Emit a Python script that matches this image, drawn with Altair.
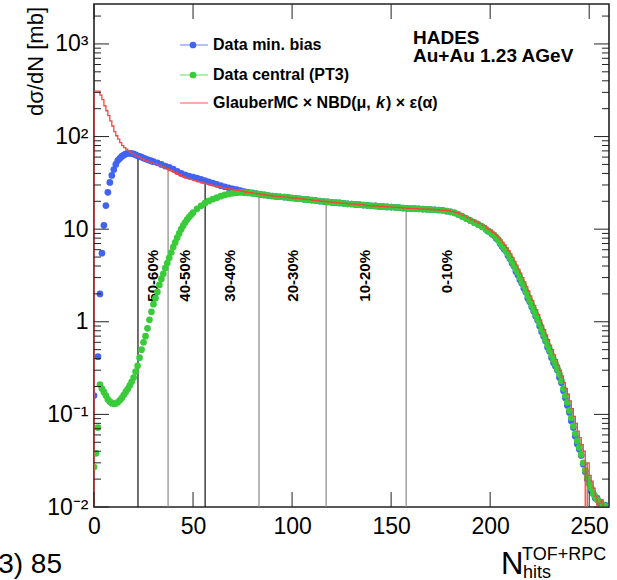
import altair as alt
import pandas as pd

FONT = "Liberation Sans"
W, H = 515, 503
XMAX = 260
YMIN, YMAX = 0.01, 2700
BLUE = "#4163f2"
GREEN = "#3acb3a"
RED = "#f2473c"

# ------------------------------------------------------------------ data
# Data min. bias (blue markers)
blue_N_low = [0, 2, 3, 4, 5, 6, 7, 8, 9, 10, 11, 12, 13, 14, 15, 16, 17, 18, 19,
              20, 21, 22, 23, 24, 25, 26, 27, 28, 29]
blue_low = [0.16, 0.42, 2.0, 5.5, 11, 18, 25, 32, 38, 44, 50, 55, 58, 61, 63, 65,
            66, 66, 65.5, 65, 63.5, 62, 61, 60, 58.5, 57.5, 56.5, 55.5, 54.5]
N_high = list(range(30, 259, 2))
blue_high = [
    53.5, 52, 50, 48, 46.5, 44.5, 42, 40, 38.5, 37.5,
    36.5, 35.5, 34.5, 33.5, 32.5, 31.5, 30.5, 29.5, 28.7, 28.0,
    27.3, 26.7, 26.1, 25.5, 25.0, 24.6, 24.2, 23.8, 23.4, 23.1,
    22.8, 22.6, 22.4, 22.2, 22.0, 21.7, 21.5, 21.3, 21.0, 20.8,
    20.6, 20.4, 20.1, 19.9, 19.7, 19.5, 19.3, 19.2, 19.0, 18.8,
    18.7, 18.5, 18.4, 18.2, 18.1, 17.9, 17.8, 17.6, 17.5, 17.4,
    17.3, 17.2, 17.1, 16.9, 16.8, 16.7, 16.7, 16.6, 16.5, 16.4,
    16.3, 16.2, 16.1, 16.0, 15.7, 15.4, 15.0, 14.4, 13.7, 13.0,
    12.4, 11.8, 11.2, 10.6, 9.9, 9.3, 8.6, 7.7, 6.5, 5.8,
    4.8, 4.0, 3.2, 2.6, 2.1, 1.65, 1.3, 1.04, 0.78, 0.62,
    0.48, 0.36, 0.30, 0.22, 0.15, 0.105, 0.072, 0.048, 0.036, 0.024,
    0.018, 0.014, 0.0125, 0.011, 0.0105]
N_tail_odd = list(range(199, 258, 2))
blue_tail_odd = [
    9.5, 8.8, 8.0, 7.0, 6.1, 5.2, 4.3, 3.5, 2.85, 2.3,
    1.8, 1.45, 1.15, 0.9, 0.7, 0.53, 0.41, 0.33, 0.25, 0.18,
    0.125, 0.085, 0.058, 0.042, 0.029, 0.02, 0.015, 0.0125, 0.0112, 0.0104]

# Data central (PT3) (green markers)
green_N_low = list(range(0, 30))
green_low = [0.027, 0.038, 0.072, 0.21, 0.19, 0.175, 0.16, 0.145, 0.137, 0.132,
             0.13, 0.131, 0.135, 0.142, 0.15, 0.162, 0.175, 0.188, 0.205, 0.225,
             0.25, 0.29, 0.335, 0.41, 0.5, 0.6, 0.7, 0.85, 1.05, 1.28]
green_high = [
    1.55, 2.1, 2.9, 3.8, 4.9, 6.4, 8.1, 10.0, 11.8, 13.5,
    15.1, 16.6, 17.9, 19.1, 20.2, 21.1, 21.9, 22.7, 23.4, 24.0,
    24.5, 24.8, 24.9, 24.8, 24.6, 24.3, 24.0, 23.7, 23.4, 23.1,
    22.8, 22.6, 22.4, 22.2, 22.0, 21.7, 21.5, 21.3, 21.0, 20.8,
    20.6, 20.4, 20.1, 19.9, 19.7, 19.5, 19.3, 19.2, 19.0, 18.8,
    18.7, 18.5, 18.4, 18.2, 18.1, 17.9, 17.8, 17.6, 17.5, 17.4,
    17.3, 17.2, 17.1, 16.9, 16.8, 16.7, 16.7, 16.6, 16.5, 16.4,
    16.3, 16.2, 16.1, 16.0, 15.7, 15.4, 15.0, 14.4, 13.7, 13.0,
    12.4, 11.8, 11.2, 10.6, 9.9, 9.3, 8.6, 7.7, 6.7, 5.9,
    4.9, 4.1, 3.4, 2.7, 2.15, 1.7, 1.35, 1.08, 0.83, 0.64,
    0.50, 0.39, 0.31, 0.23, 0.16, 0.11, 0.075, 0.052, 0.037, 0.025,
    0.018, 0.014, 0.012, 0.011, 0.0102]
N_rise_odd = list(range(31, 50, 2))
green_rise_odd = [1.8, 2.5, 3.3, 4.3, 5.6, 7.2, 9.0, 10.9, 12.7, 14.3]
green_tail_odd = [
    9.6, 8.9, 8.2, 7.2, 6.3, 5.4, 4.5, 3.7, 3.0, 2.45,
    1.9, 1.52, 1.2, 0.95, 0.73, 0.56, 0.44, 0.35, 0.27, 0.19,
    0.135, 0.092, 0.062, 0.044, 0.03, 0.021, 0.016, 0.013, 0.0115, 0.0105]

# GlauberMC x NBD x eps (red histogram, bin left edges)
red_N_low = list(range(0, 30))
red_low = [310, 310, 310, 280, 250, 215, 190, 168, 148, 130, 113, 102, 94, 86, 80,
           76, 73, 70, 67.5, 65.5, 63.5, 62, 60.5, 59, 57.5, 56, 55, 54, 53, 52]
red_high = [
    51, 49, 47, 45, 43, 41, 39, 37, 35.5, 34.5,
    33.5, 32.5, 31.5, 30.8, 30.0, 29.3, 28.7, 28.1, 27.6, 27.1,
    26.6, 26.2, 25.7, 25.2, 24.8, 24.4, 24.0, 23.7, 23.3, 23.1,
    22.7, 22.6, 22.3, 22.2, 21.9, 21.7, 21.5, 21.2, 21.0, 20.8,
    20.5, 20.4, 20.1, 19.9, 19.7, 19.5, 19.3, 19.1, 19.0, 18.8,
    18.7, 18.5, 18.4, 18.2, 18.0, 17.9, 17.8, 17.6, 17.5, 17.4,
    17.3, 17.2, 17.1, 16.9, 16.8, 16.8, 16.7, 16.6, 16.5, 16.4,
    16.3, 16.2, 16.1, 16.0, 15.8, 15.5, 15.1, 14.6, 14.0, 13.3,
    12.7, 12.1, 11.5, 10.9, 10.2, 9.6, 8.9, 8.1, 7.2, 6.3,
    5.4, 4.5, 3.7, 3.0, 2.4, 1.9, 1.5, 1.2, 0.92, 0.72,
    0.56, 0.44, 0.34, 0.26, 0.19, 0.14, 0.095, 0.066, 0.047, 0.001,
    0.022, 0.016, 0.001, 0.012, 0.001]
red_tail_odd = [
    9.9, 9.25, 8.5, 7.65, 6.75, 5.85, 4.95, 4.1, 3.35, 2.7,
    2.15, 1.7, 1.35, 1.05, 0.82, 0.64, 0.5, 0.39, 0.3, 0.22,
    0.165, 0.115, 0.08, 0.056, 0.04, 0.03, 0.019, 0.013, 0.011, 0.001]

# centrality cuts
cut_N = [22.2, 37.4, 56.1, 83.3, 117.2, 157.6]
cut_top = [60, 46, 31, 23, 19.2, 16.9]
class_labels = ["50-60%", "40-50%", "30-40%", "20-30%", "10-20%", "0-10%"]
class_N = [29.8, 46.0, 68.7, 100.5, 136.9, 178.3]

# axis ticks
x_ticks = [0, 50, 100, 150, 200, 250]
y_major = [0.01, 0.1, 1, 10, 100, 1000]
y_minor = [m * d for d in [0.01, 0.1, 1, 10, 100, 1000] for m in range(2, 10)
           if m * d <= YMAX]

assert len(blue_high) == len(N_high) == len(green_high) == len(red_high)
assert len(blue_low) == len(blue_N_low)
assert len(green_low) == len(green_N_low) and len(red_low) == len(red_N_low)
assert len(N_tail_odd) == len(blue_tail_odd) == len(green_tail_odd) == len(red_tail_odd)
assert len(N_rise_odd) == len(green_rise_odd)

# ------------------------------------------------------------------ frames
blue_df = pd.DataFrame({"N": blue_N_low + N_high + N_tail_odd,
                        "v": blue_low + blue_high + blue_tail_odd})
green_df = pd.DataFrame({"N": green_N_low + N_high + N_rise_odd + N_tail_odd,
                         "v": green_low + green_high + green_rise_odd + green_tail_odd})
red_df = pd.DataFrame({"N": red_N_low + N_high + N_tail_odd,
                       "v": red_low + red_high + red_tail_odd}).sort_values("N")
red_df = pd.concat([pd.DataFrame({"N": [0], "v": [0.001]}), red_df], ignore_index=True)
red_df["o"] = range(len(red_df))
cut_df = pd.DataFrame({"N": cut_N, "top": cut_top, "i": list(range(len(cut_N)))})
lab_df = pd.DataFrame({"N": class_N, "lab": class_labels})
one = pd.DataFrame({"a": [0]})

xs = alt.Scale(domain=[0, XMAX], nice=False, zero=False)
ys = alt.Scale(type="log", domain=[YMIN, YMAX], nice=False)

ylabel = ("datum.value > 500 ? '10³' : datum.value > 50 ? '10²' : "
          "datum.value > 5 ? '10' : datum.value > 0.5 ? '1' : "
          "datum.value > 0.05 ? '10⁻¹' : '10⁻²'")
xaxis = alt.Axis(values=x_ticks, title=None, ticks=False, tickSize=0, domain=False,
                 grid=False, labelFont=FONT, labelFontSize=23, labelColor="black",
                 labelPadding=8, labelFlush=False, labelOverlap=False)
yaxis = alt.Axis(values=y_major, title=None, ticks=False, tickSize=0, domain=False,
                 grid=False, labelFont=FONT, labelFontSize=23, labelColor="black",
                 labelPadding=6, labelFlush=False, labelOverlap=False,
                 labelExpr=ylabel)

X = lambda f: alt.X(f, scale=xs, axis=xaxis)
Y = lambda f: alt.Y(f, scale=ys, axis=yaxis)

cuts = alt.Chart(cut_df).mark_rule(strokeWidth=1.2, clip=True).encode(
    x=X("N:Q"), y=Y("top:Q"), y2=alt.value(H),
    color=alt.condition("datum.i == 0 || datum.i == 2",
                        alt.value("#111111"), alt.value("#8a8a8a")))

cut_text = alt.Chart(lab_df).mark_text(
    angle=270, align="right", baseline="middle", font=FONT, fontSize=15,
    fontWeight="bold", color="black").encode(
    x=X("N:Q"), y=alt.value(246), text="lab:N")

blue = alt.Chart(blue_df).mark_circle(size=45, color=BLUE, opacity=1, clip=True).encode(
    x=X("N:Q"), y=Y("v:Q"))
green = alt.Chart(green_df).mark_circle(size=45, color=GREEN, opacity=1, clip=True).encode(
    x=X("N:Q"), y=Y("v:Q"))
red = alt.Chart(red_df).mark_line(interpolate="step-after", color=RED,
                                  strokeWidth=1.3, clip=True).encode(
    x=X("N:Q"), y=Y("v:Q"), order="o:Q")

TICK = "#222222"
ymaj = pd.DataFrame({"t": y_major})
ymin = pd.DataFrame({"t": y_minor})
xmaj = pd.DataFrame({"t": x_ticks})


def ytick(df, L, right=False):
    x0 = W if right else 0
    x1 = W - L if right else L
    return alt.Chart(df).mark_rule(color=TICK, strokeWidth=1).encode(
        y=Y("t:Q"), x=alt.value(x0), x2=alt.value(x1))


def xtick(df, L, top=False):
    y0 = 0 if top else H
    y1 = L if top else H - L
    return alt.Chart(df).mark_rule(color=TICK, strokeWidth=1).encode(
        x=X("t:Q"), y=alt.value(y0), y2=alt.value(y1))


ticks = [ytick(ymaj, 15), ytick(ymaj, 15, True), ytick(ymin, 7), ytick(ymin, 7, True),
         xtick(xmaj, 15), xtick(xmaj, 15, True)]


def txt(s, x, y, size, weight="normal", align="left", baseline="alphabetic",
        angle=None, color="black", style="normal"):
    kw = dict(text=s, font=FONT, fontSize=size, fontWeight=weight, align=align,
              baseline=baseline, color=color, fontStyle=style)
    if angle is not None:
        kw["angle"] = angle
    return alt.Chart(one).mark_text(**kw).encode(x=alt.value(x), y=alt.value(y))


def lline(y, color):
    return alt.Chart(one).mark_rule(color=color, strokeWidth=1.2).encode(
        x=alt.value(86), x2=alt.value(114), y=alt.value(y))


def ldot(y, color):
    return alt.Chart(one).mark_circle(size=45, color=color, opacity=1).encode(
        x=alt.value(99), y=alt.value(y))


legend = [
    lline(41, "#8497ff"), ldot(41, BLUE),
    txt("Data min. bias", 119, 41, 16, "bold", baseline="middle"),
    lline(71, "#7fdf7f"), ldot(71, GREEN),
    txt("Data central (PT3)", 119, 71, 16, "bold", baseline="middle"),
    lline(99, "#f47a70"),
    txt("GlauberMC × NBD(μ, ", 119, 99, 16, "bold", baseline="middle"),
    txt("k", 282, 99, 16, "bold", baseline="middle", style="italic"),
    txt(") × ε(α)", 292, 99, 16, "bold", baseline="middle"),
]

labels = [
    txt("HADES", 319, 40, 19, "bold"),
    txt("Au+Au 1.23 AGeV", 319, 58, 19, "bold"),
    txt("dσ/dN [mb]", -51, 3, 22, angle=270, align="right"),
    txt("N", 407, 570, 31),
    txt("TOF+RPC", 428, 556, 18),
    txt("hits", 429, 574, 18),
    txt("3) 85", -32, 569, 28, align="right"),
]

chart = alt.layer(
    cuts, cut_text, blue, green, red, *ticks, *legend, *labels
).properties(
    width=W, height=H,
    autosize=alt.AutoSizeParams(type="none"),
    padding={"left": 94, "top": 4, "right": 8, "bottom": 73},
    background="white",
).configure_view(stroke="#222222", strokeWidth=1.6)

chart.save("out.html", embed_options={"renderer": "svg", "actions": False})
